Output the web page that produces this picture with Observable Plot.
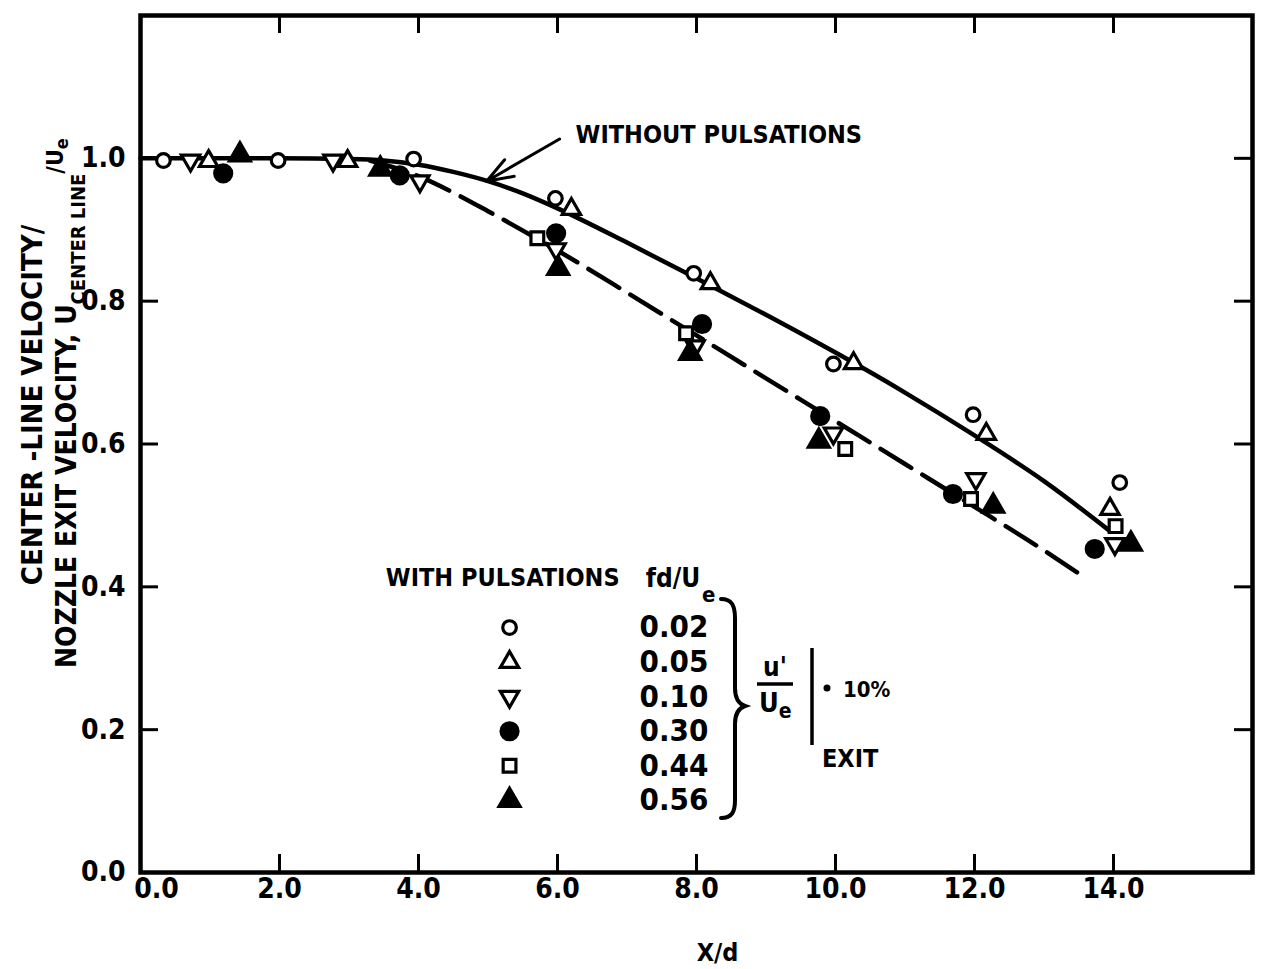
<!DOCTYPE html>
<html><head><meta charset="utf-8">
<script src="https://cdn.jsdelivr.net/npm/d3@7"></script>
<script src="https://cdn.jsdelivr.net/npm/@observablehq/plot@0.6"></script>
<style>
html,body{margin:0;padding:0;background:#fff;}
#chart{position:relative;width:1262px;height:969px;}
svg{display:block;}
</style></head><body><div id="chart"></div>
<script>
const FONT = '"Liberation Sans Narrow","DejaVu Sans Condensed","Arial Narrow",sans-serif';

// ---- Data ----
const seriesLabels = ["0.02", "0.05", "0.10", "0.30", "0.44", "0.56"];

const s002X = [0.33, 1.98, 3.93, 5.97, 7.96, 9.97, 11.98, 14.09];
const s002Y = [0.997, 0.997, 0.999, 0.944, 0.839, 0.712, 0.641, 0.546];

const s005X = [0.98, 2.98, 6.20, 8.20, 10.26, 12.17, 13.95];
const s005Y = [0.996, 0.996, 0.929, 0.825, 0.713, 0.614, 0.509];

const s010X = [0.72, 2.77, 4.02, 5.98, 7.98, 9.97, 12.02, 14.02];
const s010Y = [0.997, 0.997, 0.968, 0.873, 0.737, 0.615, 0.551, 0.460];

const s030X = [1.19, 3.73, 5.98, 8.08, 9.78, 11.69, 13.73];
const s030Y = [0.979, 0.976, 0.895, 0.768, 0.639, 0.530, 0.453];

const s044X = [5.71, 7.85, 10.14, 11.95, 14.03];
const s044Y = [0.888, 0.755, 0.593, 0.523, 0.485];

const s056X = [1.43, 3.45, 6.01, 7.91, 9.76, 12.27, 14.25];
const s056Y = [1.005, 0.985, 0.846, 0.727, 0.604, 0.513, 0.460];

// faired curves
const withoutX = [0, 1, 2, 3, 3.5, 4, 4.5, 5, 5.5, 6, 7, 8, 9, 10, 11, 12, 13, 13.95];
const withoutY = [1.0, 1.0, 1.0, 0.999, 0.997, 0.991, 0.981, 0.968, 0.951, 0.930, 0.882, 0.832, 0.781, 0.728, 0.672, 0.612, 0.548, 0.478];

const withX = [3.3, 4, 4.5, 5, 6, 7, 8, 9, 10, 11, 12, 13, 13.48];
const withY = [0.997, 0.975, 0.952, 0.926, 0.871, 0.812, 0.752, 0.692, 0.632, 0.572, 0.512, 0.451, 0.420];

const xTicks = [2, 4, 6, 8, 10, 12, 14];
const yTicks = [0.2, 0.4, 0.6, 0.8, 1.0];
const yTickLabels = [0, 0.2, 0.4, 0.6, 0.8, 1.0];

// ---- build tables ----
const seriesXY = [[s002X, s002Y], [s005X, s005Y], [s010X, s010Y], [s030X, s030Y], [s044X, s044Y], [s056X, s056Y]];
const points = seriesXY.flatMap(([xs, ys], i) => xs.map((x, j) => ({series: seriesLabels[i], x, y: ys[j]})));
const curveWithout = withoutX.map((x, i) => ({x, y: withoutY[i]}));
const curveWith = withX.map((x, i) => ({x, y: withY[i]}));

// ---- styles ----
const styles = {
  "0.02": {symbol: "circle", fill: "white", r: 6.8, rotate: 0},
  "0.05": {symbol: "triangle", fill: "white", r: 6.8, rotate: 0},
  "0.10": {symbol: "triangle", fill: "white", r: 6.8, rotate: 180},
  "0.30": {symbol: "circle", fill: "black", r: 8.5, rotate: 0},
  "0.44": {symbol: "square", fill: "white", r: 7.2, rotate: 0},
  "0.56": {symbol: "triangle", fill: "black", r: 7.8, rotate: 0}
};

const W = 1262, H = 969, mT = 15, mB = 97, mL = 140, mR = 10;
const frameW = W - mL - mR, frameH = H - mT - mB;
const TICK = 18;

// legend layout (data units)
const legSymX = 5.31, legTxtX = 7.18, legY0 = 0.343, legStep = 0.0484;
const legend = seriesLabels.map((s, i) => ({series: s, y: legY0 - i * legStep}));

const dotMarks = seriesLabels.map(s => {
  const st = styles[s];
  return Plot.dot(points.filter(p => p.series === s), {
    x: "x", y: "y", symbol: () => st.symbol, r: st.r, fill: st.fill, stroke: "black",
    strokeWidth: 3.2, rotate: st.rotate
  });
});
const legendDots = seriesLabels.map(s => {
  const st = styles[s];
  return Plot.dot(legend.filter(l => l.series === s), {
    x: () => legSymX, y: "y", symbol: () => st.symbol, r: st.r, fill: st.fill, stroke: "black",
    strokeWidth: 3.2, rotate: st.rotate
  });
});

const plot = Plot.plot({
  width: W, height: H,
  marginTop: mT, marginBottom: mB, marginLeft: mL, marginRight: mR,
  x: {domain: [0, 16]},
  y: {domain: [0, 1.2]},
  style: {fontFamily: FONT, fontWeight: "bold", fontSize: "26px", background: "white", color: "black", overflow: "visible"},
  marks: [
    Plot.line(curveWithout, {x: "x", y: "y", curve: "monotone-x", strokeWidth: 4.5}),
    Plot.line(curveWith, {x: "x", y: "y", curve: "monotone-x", strokeWidth: 4.5, strokeDasharray: "36,13"}),
    Plot.frame({strokeWidth: 4.5}),
    // inward ticks
    Plot.tickX(xTicks, {x: d => d, insetTop: frameH - TICK, strokeWidth: 3}),
    Plot.tickX(xTicks, {x: d => d, insetBottom: frameH - TICK, strokeWidth: 3}),
    Plot.tickY(yTicks, {y: d => d, insetRight: frameW - TICK, strokeWidth: 3}),
    Plot.tickY(yTicks, {y: d => d, insetLeft: frameW - TICK, strokeWidth: 3}),
    // axes labels
    Plot.axisX(xTicks, {tickSize: 0, tickPadding: 6, tickFormat: d => d.toFixed(1), label: null, fontSize: 28}),
    Plot.axisX([0], {tickSize: 0, tickPadding: 6, tickFormat: d => d.toFixed(1), label: null, dx: 16, fontSize: 28}),
    Plot.axisY(yTickLabels, {tickSize: 0, tickPadding: 15, tickFormat: d => d.toFixed(1), label: null, fontSize: 28}),
    Plot.text(["X/d"], {text: d => d, frameAnchor: "bottom", dy: 80, dx: 21, fontSize: 25, lineAnchor: "middle"}),
    // annotation
    Plot.arrow([{x1: 6.03, y1: 1.027, x2: 4.98, y2: 0.968}], {x1: "x1", y1: "y1", x2: "x2", y2: "y2", strokeWidth: 3, headLength: 14, headAngle: 40}),
    Plot.text(["WITHOUT PULSATIONS"], {text: d => d, x: () => 6.26, y: () => 1.032, textAnchor: "start", fontSize: 25}),
    // data
    ...dotMarks,
    // legend
    Plot.text(["WITH PULSATIONS"], {text: d => d, x: () => 3.53, y: () => 0.412, textAnchor: "start", fontSize: 25}),
    Plot.text(["fd/U"], {text: d => d, x: () => 7.27, y: () => 0.412, textAnchor: "start", fontSize: 26}),
    Plot.text(["e"], {text: d => d, x: () => 8.08, y: () => 0.388, textAnchor: "start", fontSize: 22}),
    ...legendDots,
    Plot.text(legend, {x: () => legTxtX, y: "y", text: "series", textAnchor: "start", fontSize: 31})
  ]
});

document.getElementById("chart").appendChild(plot);

// ---- extra lettering (pixel layout) ----
const svg = d3.select(plot);
const g = svg.append("g").attr("font-family", FONT).attr("font-weight", "bold").attr("fill", "black").attr("text-anchor", "start");

// y-axis title, two rotated lines
g.append("text").attr("transform", "translate(42,405) rotate(-90)").attr("text-anchor", "middle")
  .attr("font-size", 29).text("CENTER -LINE VELOCITY/");
const t2 = g.append("text").attr("transform", "translate(76,668) rotate(-90)").attr("text-anchor", "start").attr("font-size", 28);
t2.append("tspan").text("NOZZLE EXIT VELOCITY, U");
t2.append("tspan").attr("font-size", 20).attr("dy", 9).text("CENTER LINE");
t2.append("tspan").attr("font-size", 23).attr("dy", -22).text("/U");
t2.append("tspan").attr("font-size", 18).attr("dy", 5).text("e");

// legend brace
g.append("path").attr("fill", "none").attr("stroke", "black").attr("stroke-width", 4).attr("stroke-linecap", "round")
  .attr("d", "M721,599 C732,599 735,606 735,618 L735,688 C735,699 739,704 745,706 C739,708 735,713 735,724 L735,800 C735,812 732,818 721,818");

// u'/Ue | = 10% EXIT
g.append("text").attr("x", 775).attr("y", 676).attr("text-anchor", "middle").attr("font-size", 26).text("u'");
g.append("line").attr("x1", 757).attr("x2", 793).attr("y1", 684).attr("y2", 684).attr("stroke", "black").attr("stroke-width", 3.5);
const ue = g.append("text").attr("x", 759).attr("y", 712).attr("font-size", 27);
ue.append("tspan").text("U");
ue.append("tspan").attr("font-size", 21).attr("dy", 6).text("e");
g.append("line").attr("x1", 812).attr("x2", 812).attr("y1", 648).attr("y2", 745).attr("stroke", "black").attr("stroke-width", 3.5);
g.append("circle").attr("cx", 827).attr("cy", 688).attr("r", 3.5);
g.append("text").attr("x", 843).attr("y", 697).attr("font-size", 22).text("10%");
g.append("text").attr("x", 822).attr("y", 767).attr("font-size", 25).text("EXIT");
</script></body></html>
